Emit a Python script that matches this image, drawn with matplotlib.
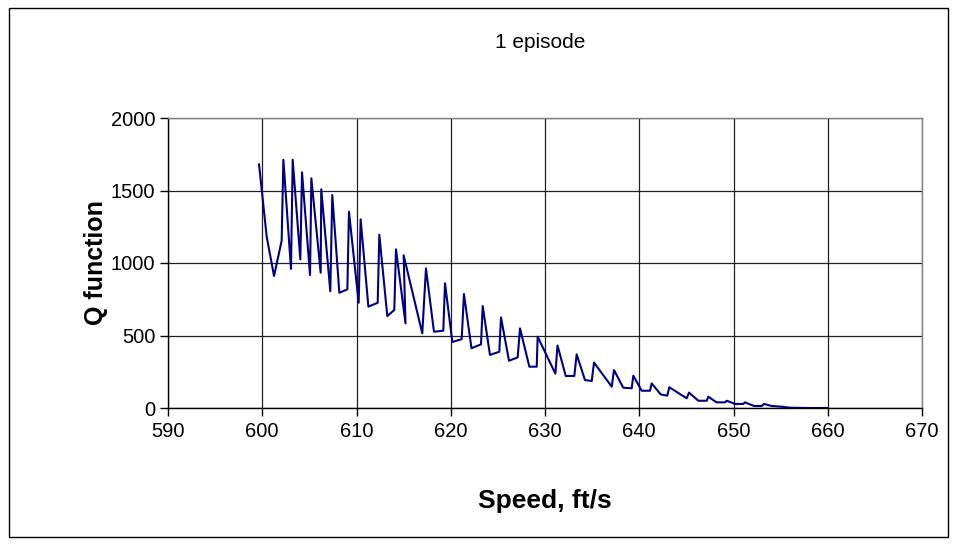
import matplotlib
matplotlib.use("Agg")
from matplotlib import pyplot as plt
from matplotlib.patches import Rectangle

plt.rcParams['font.family'] = ['Liberation Sans', 'DejaVu Sans']

# speed (ft/s) and Q function values
speed = [599.66, 600.47, 601.25, 602.06, 602.24, 603.05, 603.23, 604.04, 604.22,
         605.07, 605.21, 606.2, 606.26, 607.22, 607.43, 608.18, 609.03, 609.2,
         610.23, 610.44, 611.26, 612.25, 612.42, 613.27, 614.01, 614.19, 615.2,
         615.0, 616.98, 617.37, 618.22, 619.21, 619.39, 620.17, 621.16, 621.4,
         622.2, 623.21, 623.39, 624.16, 625.15, 625.33, 626.18, 627.1, 627.35,
         628.34, 629.12, 629.22, 631.1, 631.33, 632.2, 633.11, 633.36, 634.24,
         634.96, 635.2, 637.08, 637.32, 638.3, 639.2, 639.37, 640.26, 641.14,
         641.32, 642.27, 642.97, 643.19, 645.03, 645.28, 646.27, 647.16, 647.33,
         648.2, 649.1, 649.28, 650.16, 651.04, 651.2, 652.18, 652.99, 653.24,
         654.05, 655.1, 656.0, 657.0, 658.0, 659.0, 660.0]
q_value = [1680, 1182, 910, 1154, 1712, 959, 1712, 1025, 1625,
           917, 1584, 933, 1508, 805, 1469, 795, 818, 1354,
           726, 1301, 699, 726, 1195, 634, 676, 1094, 584,
           1053, 515, 963, 526, 533, 860, 455, 475, 786,
           412, 439, 703, 366, 388, 625, 326, 349, 549,
           285, 285, 492, 237, 431, 221, 221, 370, 193,
           186, 313, 147, 262, 140, 136, 223, 119, 119,
           170, 94, 85, 143, 67, 106, 50, 50, 78,
           39, 39, 50, 28, 28, 39, 14, 14, 28,
           14, 9, 2, 1, 0, 0, 0]

x_ticks = [590, 600, 610, 620, 630, 640, 650, 660, 670]
y_ticks = [0, 500, 1000, 1500, 2000]

W, H = 956, 544
fig = plt.figure(figsize=(W / 100, H / 100), dpi=100)
fig.patch.set_facecolor('white')

# outer chart border
fig.patches.append(Rectangle((9 / W, 1 - 537 / H), 939 / W, 529 / H,
                             transform=fig.transFigure, fill=False,
                             edgecolor='black', linewidth=1.0))

ax = fig.add_axes([168 / W, 1 - 408 / H, 754 / W, 290 / H])
ax.plot(speed, q_value, color='#000080', linewidth=1.5)

ax.set_xlim(590, 670)
ax.set_ylim(0, 2000)
ax.set_xticks(x_ticks)
ax.set_yticks(y_ticks)
ax.grid(True, color='#202020', linewidth=0.9)
ax.set_axisbelow(True)
for s in ax.spines.values():
    s.set_color('#808080')
    s.set_linewidth(1.0)
ax.spines['left'].set_color('black')
ax.spines['bottom'].set_color('black')
ax.tick_params(axis='both', direction='out', length=6, width=1, colors='black',
               labelsize=14.5, pad=3)
ax.tick_params(axis='x', pad=4)

fig.text(540 / W, 1 - 42 / H, '1 episode', ha='center', va='center', fontsize=15)
fig.text(545 / W, 1 - 501 / H, 'Speed, ft/s', ha='center', va='center',
         fontsize=19, fontweight='bold')
fig.text(96 / W, 1 - 263 / H, 'Q function', ha='center', va='center',
         fontsize=18, fontweight='bold', rotation=90)

fig.savefig('out.png', dpi=100)
